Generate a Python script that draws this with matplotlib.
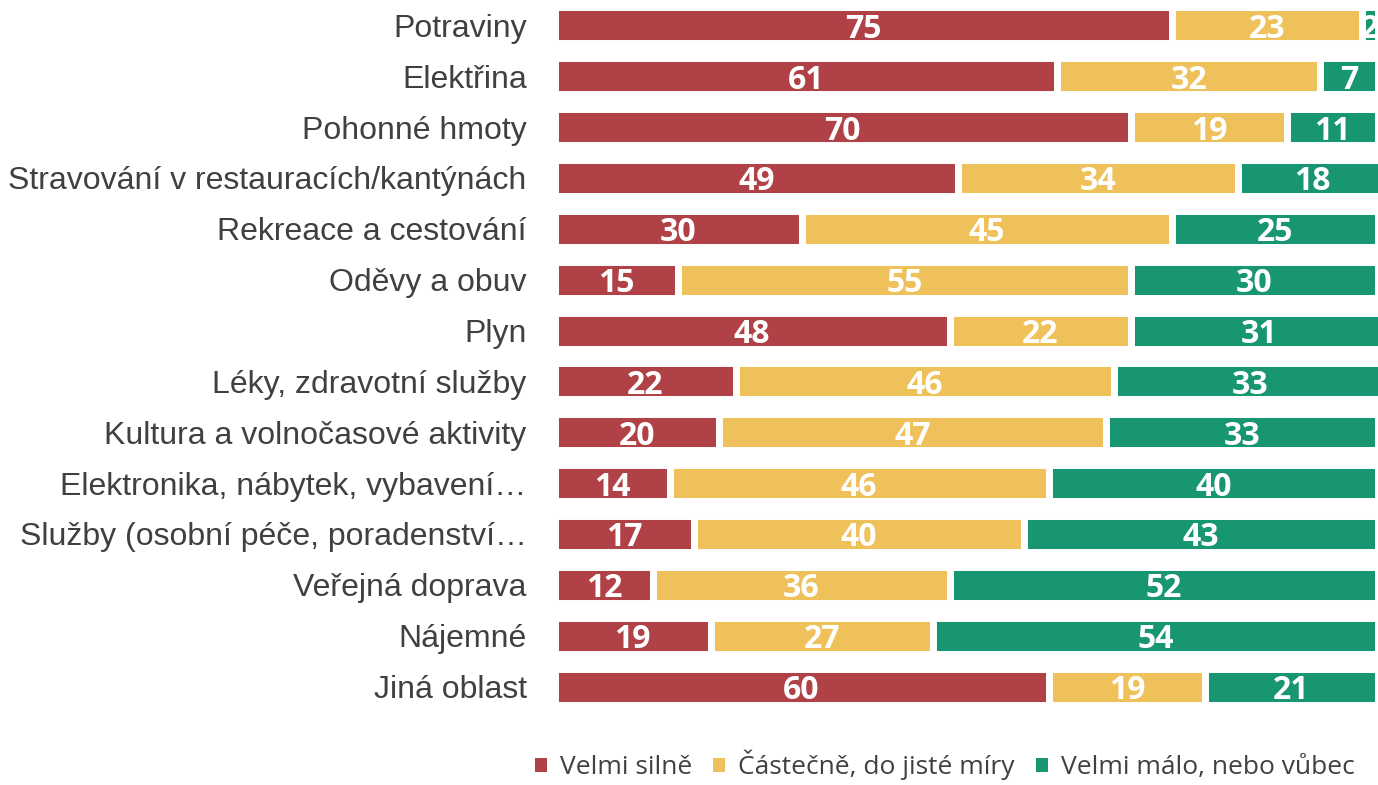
import matplotlib
matplotlib.use("Agg")
import matplotlib.pyplot as plt
from matplotlib.patches import Patch

categories = [
    "Potraviny", "Elektřina", "Pohonné hmoty", "Stravování v restauracích/kantýnách",
    "Rekreace a cestování", "Oděvy a obuv", "Plyn", "Léky, zdravotní služby",
    "Kultura a volnočasové aktivity", "Elektronika, nábytek, vybavení…",
    "Služby (osobní péče, poradenství…", "Veřejná doprava", "Nájemné", "Jiná oblast",
]
velmi_silne = [75, 61, 70, 49, 30, 15, 48, 22, 20, 14, 17, 12, 19, 60]
castecne = [23, 32, 19, 34, 45, 55, 22, 46, 47, 46, 40, 36, 27, 19]
velmi_malo = [2, 7, 11, 18, 25, 30, 31, 33, 33, 40, 43, 52, 54, 21]
series_names = ["Velmi silně", "Částečně, do jisté míry", "Velmi málo, nebo vůbec"]
colors = ["#B04146", "#EFC15A", "#189671"]

W, H = 1378, 785
fig = plt.figure(figsize=(W / 100, H / 100), dpi=100)
ax_left = 554.5
ax = fig.add_axes([ax_left / W, 1 - 712 / H, 1 - ax_left / W, 712 / H])

y = list(range(len(categories)))
left = [0] * len(categories)
for vals, col in zip([velmi_silne, castecne, velmi_malo], colors):
    ax.barh(y, vals, left=left, height=0.71, color=col,
            edgecolor="white", linewidth=5)
    for yi, l, v in zip(y, left, vals):
        ax.text(l + v / 2, yi, str(v), ha="center", va="center_baseline", color="white",
                fontsize=23, fontweight="bold", family="Open Sans")
    left = [a + b for a, b in zip(left, vals)]

ax.set_xlim(0, 100)
ax.set_ylim(13.5, -0.5)
ax.set_yticks(y)
ax.set_yticklabels(categories, fontsize=23, color="#404040", family="Liberation Sans")
ax.tick_params(axis="y", length=0, pad=20)
ax.set_xticks([])
for s in ax.spines.values():
    s.set_visible(False)

handles = [Patch(facecolor=c, edgecolor="none") for c in colors]
leg = fig.legend(handles, series_names, loc="center right", bbox_to_anchor=(1368 / W, 1 - 765 / H),
                 ncol=3, frameon=False, handlelength=0.45, handleheight=0.45,
                 handletextpad=0.5, columnspacing=0.8, borderpad=0,
                 prop={"family": "Open Sans", "size": 19})
for t in leg.get_texts():
    t.set_color("#404040")

fig.savefig("out.png", dpi=100)
